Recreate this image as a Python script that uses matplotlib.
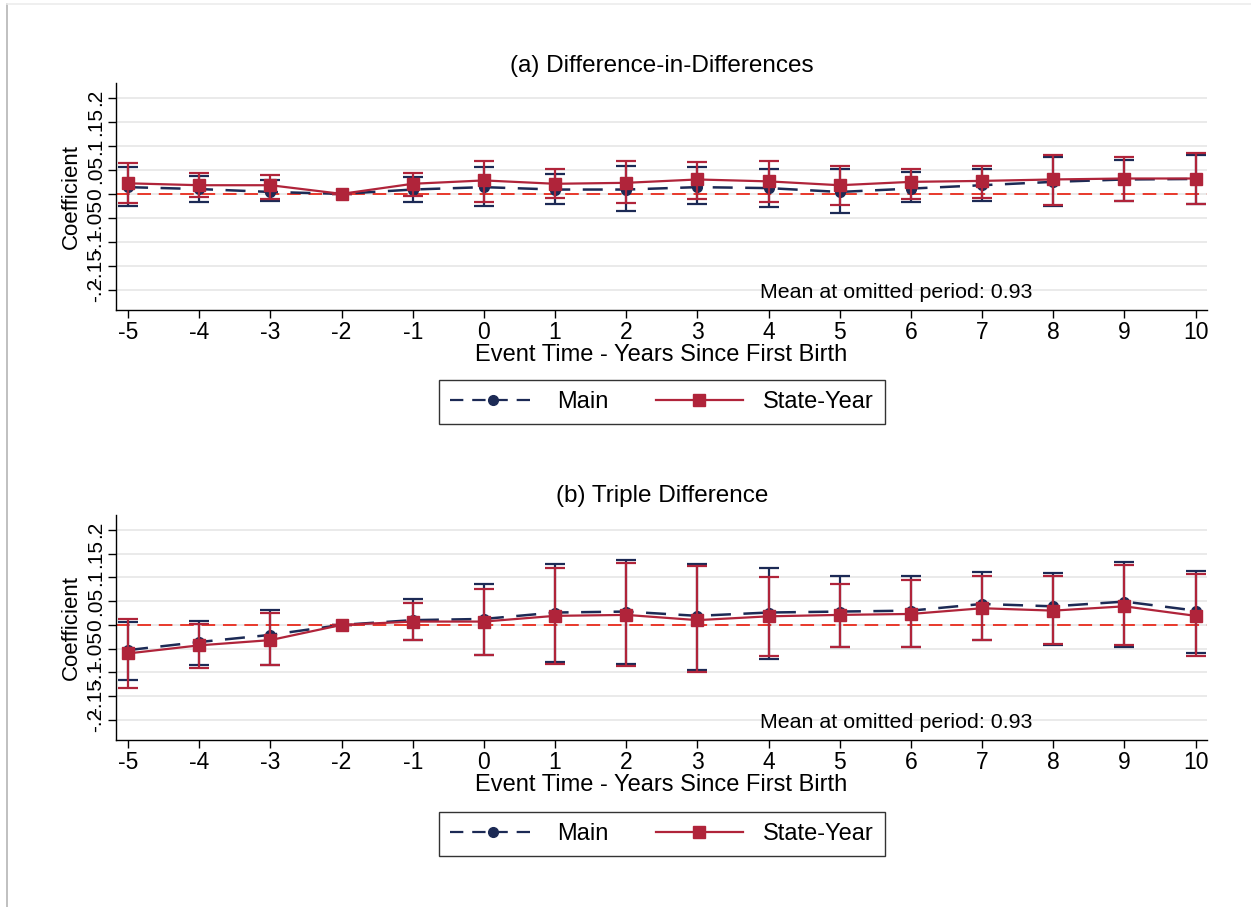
import numpy as np
import matplotlib
matplotlib.use("Agg")
import matplotlib.pyplot as plt
from matplotlib.lines import Line2D

plt.rcParams["font.family"] = ["Liberation Sans", "DejaVu Sans"]

# --- event-study estimates ---
event_time = [-5, -4, -3, -2, -1, 0, 1, 2, 3, 4, 5, 6, 7, 8, 9, 10]

# (a) difference-in-differences
did_main = [0.014, 0.010, 0.004, 0.0, 0.009, 0.014, 0.009, 0.009, 0.014, 0.012, 0.004, 0.011, 0.018, 0.025, 0.030, 0.031]
did_main_lo = [-0.026, -0.017, -0.015, 0.0, -0.017, -0.026, -0.022, -0.036, -0.022, -0.028, -0.040, -0.017, -0.015, -0.025, -0.015, -0.021]
did_main_hi = [0.056, 0.038, 0.028, 0.0, 0.035, 0.057, 0.042, 0.058, 0.056, 0.052, 0.051, 0.045, 0.052, 0.076, 0.071, 0.080]
did_sy = [0.022, 0.018, 0.018, 0.0, 0.021, 0.028, 0.021, 0.023, 0.030, 0.026, 0.018, 0.025, 0.027, 0.030, 0.032, 0.032]
did_sy_lo = [-0.018, -0.006, -0.010, 0.0, -0.005, -0.016, -0.008, -0.020, -0.010, -0.017, -0.023, -0.010, -0.008, -0.024, -0.014, -0.022]
did_sy_hi = [0.064, 0.043, 0.040, 0.0, 0.044, 0.068, 0.052, 0.068, 0.066, 0.068, 0.059, 0.052, 0.059, 0.082, 0.076, 0.085]

# (b) triple difference
ddd_main = [-0.053, -0.036, -0.021, 0.0, 0.010, 0.0125, 0.026, 0.028, 0.019, 0.026, 0.028, 0.030, 0.044, 0.039, 0.049, 0.030]
ddd_main_lo = [-0.115, -0.085, -0.085, 0.0, -0.031, -0.0625, -0.078, -0.083, -0.094, -0.071, -0.047, -0.047, -0.031, -0.042, -0.047, -0.060]
ddd_main_hi = [0.007, 0.009, 0.031, 0.0, 0.055, 0.087, 0.128, 0.137, 0.129, 0.120, 0.103, 0.103, 0.111, 0.110, 0.132, 0.113]
ddd_sy = [-0.060, -0.043, -0.032, 0.0, 0.007, 0.007, 0.019, 0.021, 0.010, 0.018, 0.021, 0.023, 0.035, 0.030, 0.039, 0.019]
ddd_sy_lo = [-0.133, -0.090, -0.085, 0.0, -0.031, -0.0625, -0.083, -0.087, -0.100, -0.066, -0.047, -0.047, -0.031, -0.040, -0.043, -0.065]
ddd_sy_hi = [0.0125, 0.002, 0.024, 0.0, 0.045, 0.076, 0.120, 0.130, 0.124, 0.101, 0.085, 0.094, 0.103, 0.103, 0.126, 0.106]

ytick_vals = [-0.2, -0.15, -0.1, -0.05, 0, 0.05, 0.1, 0.15, 0.2]
ytick_labels = ["-.2", "-.15", "-.1", "-.05", "0", ".05", ".1", ".15", ".2"]

NAVY = "#1c2a55"
RED = "#b0243a"
ZERO = "#e8392b"

fig = plt.figure(figsize=(12.51, 9.07), dpi=100)
fig.patch.set_facecolor("white")


def panel(ax, main, main_lo, main_hi, sy, sy_lo, sy_hi):
    x = np.array(event_time)
    m = np.array(main)
    s = np.array(sy)
    ax.axhline(0, color=ZERO, lw=1.4, dashes=(7, 4), zorder=1)
    ax.errorbar(x, m, yerr=[m - np.array(main_lo), np.array(main_hi) - m],
                fmt="none", ecolor=NAVY, elinewidth=1.6, capsize=7, capthick=1.6, zorder=2)
    ax.plot(x, m, color=NAVY, lw=1.8, dashes=(8, 5), marker="o", ms=7, zorder=3)
    ax.errorbar(x, s, yerr=[s - np.array(sy_lo), np.array(sy_hi) - s],
                fmt="none", ecolor=RED, elinewidth=1.6, capsize=7, capthick=1.6, zorder=4)
    ax.plot(x, s, color=RED, lw=1.6, marker="s", ms=9, zorder=5)

    ax.set_xlim(-5.17, 10.16)
    ax.set_ylim(-0.242, 0.231)
    ax.set_xticks(event_time)
    ax.set_xticklabels([str(t) for t in event_time], fontsize=16.5)
    ax.set_yticks(ytick_vals)
    ax.set_yticklabels(ytick_labels, fontsize=15, rotation=90, va="center")
    ax.grid(axis="y", color="#e6e6e6", lw=1.2)
    ax.set_axisbelow(True)
    for side in ["top", "right"]:
        ax.spines[side].set_visible(False)
    ax.spines["left"].set_linewidth(1.0)
    ax.spines["bottom"].set_linewidth(1.0)
    ax.tick_params(length=6, width=1.0, pad=2)
    ax.set_ylabel("Coefficient", fontsize=16, labelpad=3)
    ax.set_xlabel("Event Time - Years Since First Birth", fontsize=17, labelpad=0)
    ax.text(0.59, 0.079, "Mean at omitted period: 0.93", transform=ax.transAxes,
            fontsize=15.4, ha="left", va="center")


ax1 = fig.add_axes([0.0927, 0.6582, 0.8721, 0.2503])
ax2 = fig.add_axes([0.0927, 0.1841, 0.8721, 0.2481])
panel(ax1, did_main, did_main_lo, did_main_hi, did_sy, did_sy_lo, did_sy_hi)
panel(ax2, ddd_main, ddd_main_lo, ddd_main_hi, ddd_sy, ddd_sy_lo, ddd_sy_hi)

fig.text(0.529, 1 - 66 / 907, "(a) Difference-in-Differences", fontsize=17.5, ha="center", va="center")
fig.text(0.529, 1 - 496 / 907, "(b) Triple Difference", fontsize=17.5, ha="center", va="center")

handles = [
    Line2D([], [], color=NAVY, lw=1.6, dashes=(6, 4), marker="o", ms=7),
    Line2D([], [], color=RED, lw=1.6, marker="s", ms=8),
]
for yc in [1 - 402 / 907, 1 - 834 / 907]:
    leg = fig.legend(handles, ["Main", "State-Year"], loc="center",
                     bbox_to_anchor=(0.529, yc), ncol=2, fontsize=17,
                     frameon=True, fancybox=False, edgecolor="black",
                     handlelength=3.7, handletextpad=0.85, columnspacing=2.0,
                     borderpad=0.45, borderaxespad=0)
    leg.get_frame().set_linewidth(1.0)

# thin page frame along the top and left edges
fig.add_artist(Line2D([7 / 1251, 7 / 1251], [0, 1 - 4 / 907], color="#b5b5b5", lw=1.2))
fig.add_artist(Line2D([7 / 1251, 1], [1 - 4 / 907, 1 - 4 / 907], color="#ececec", lw=1.2))

plt.savefig("out.png", dpi=100)
